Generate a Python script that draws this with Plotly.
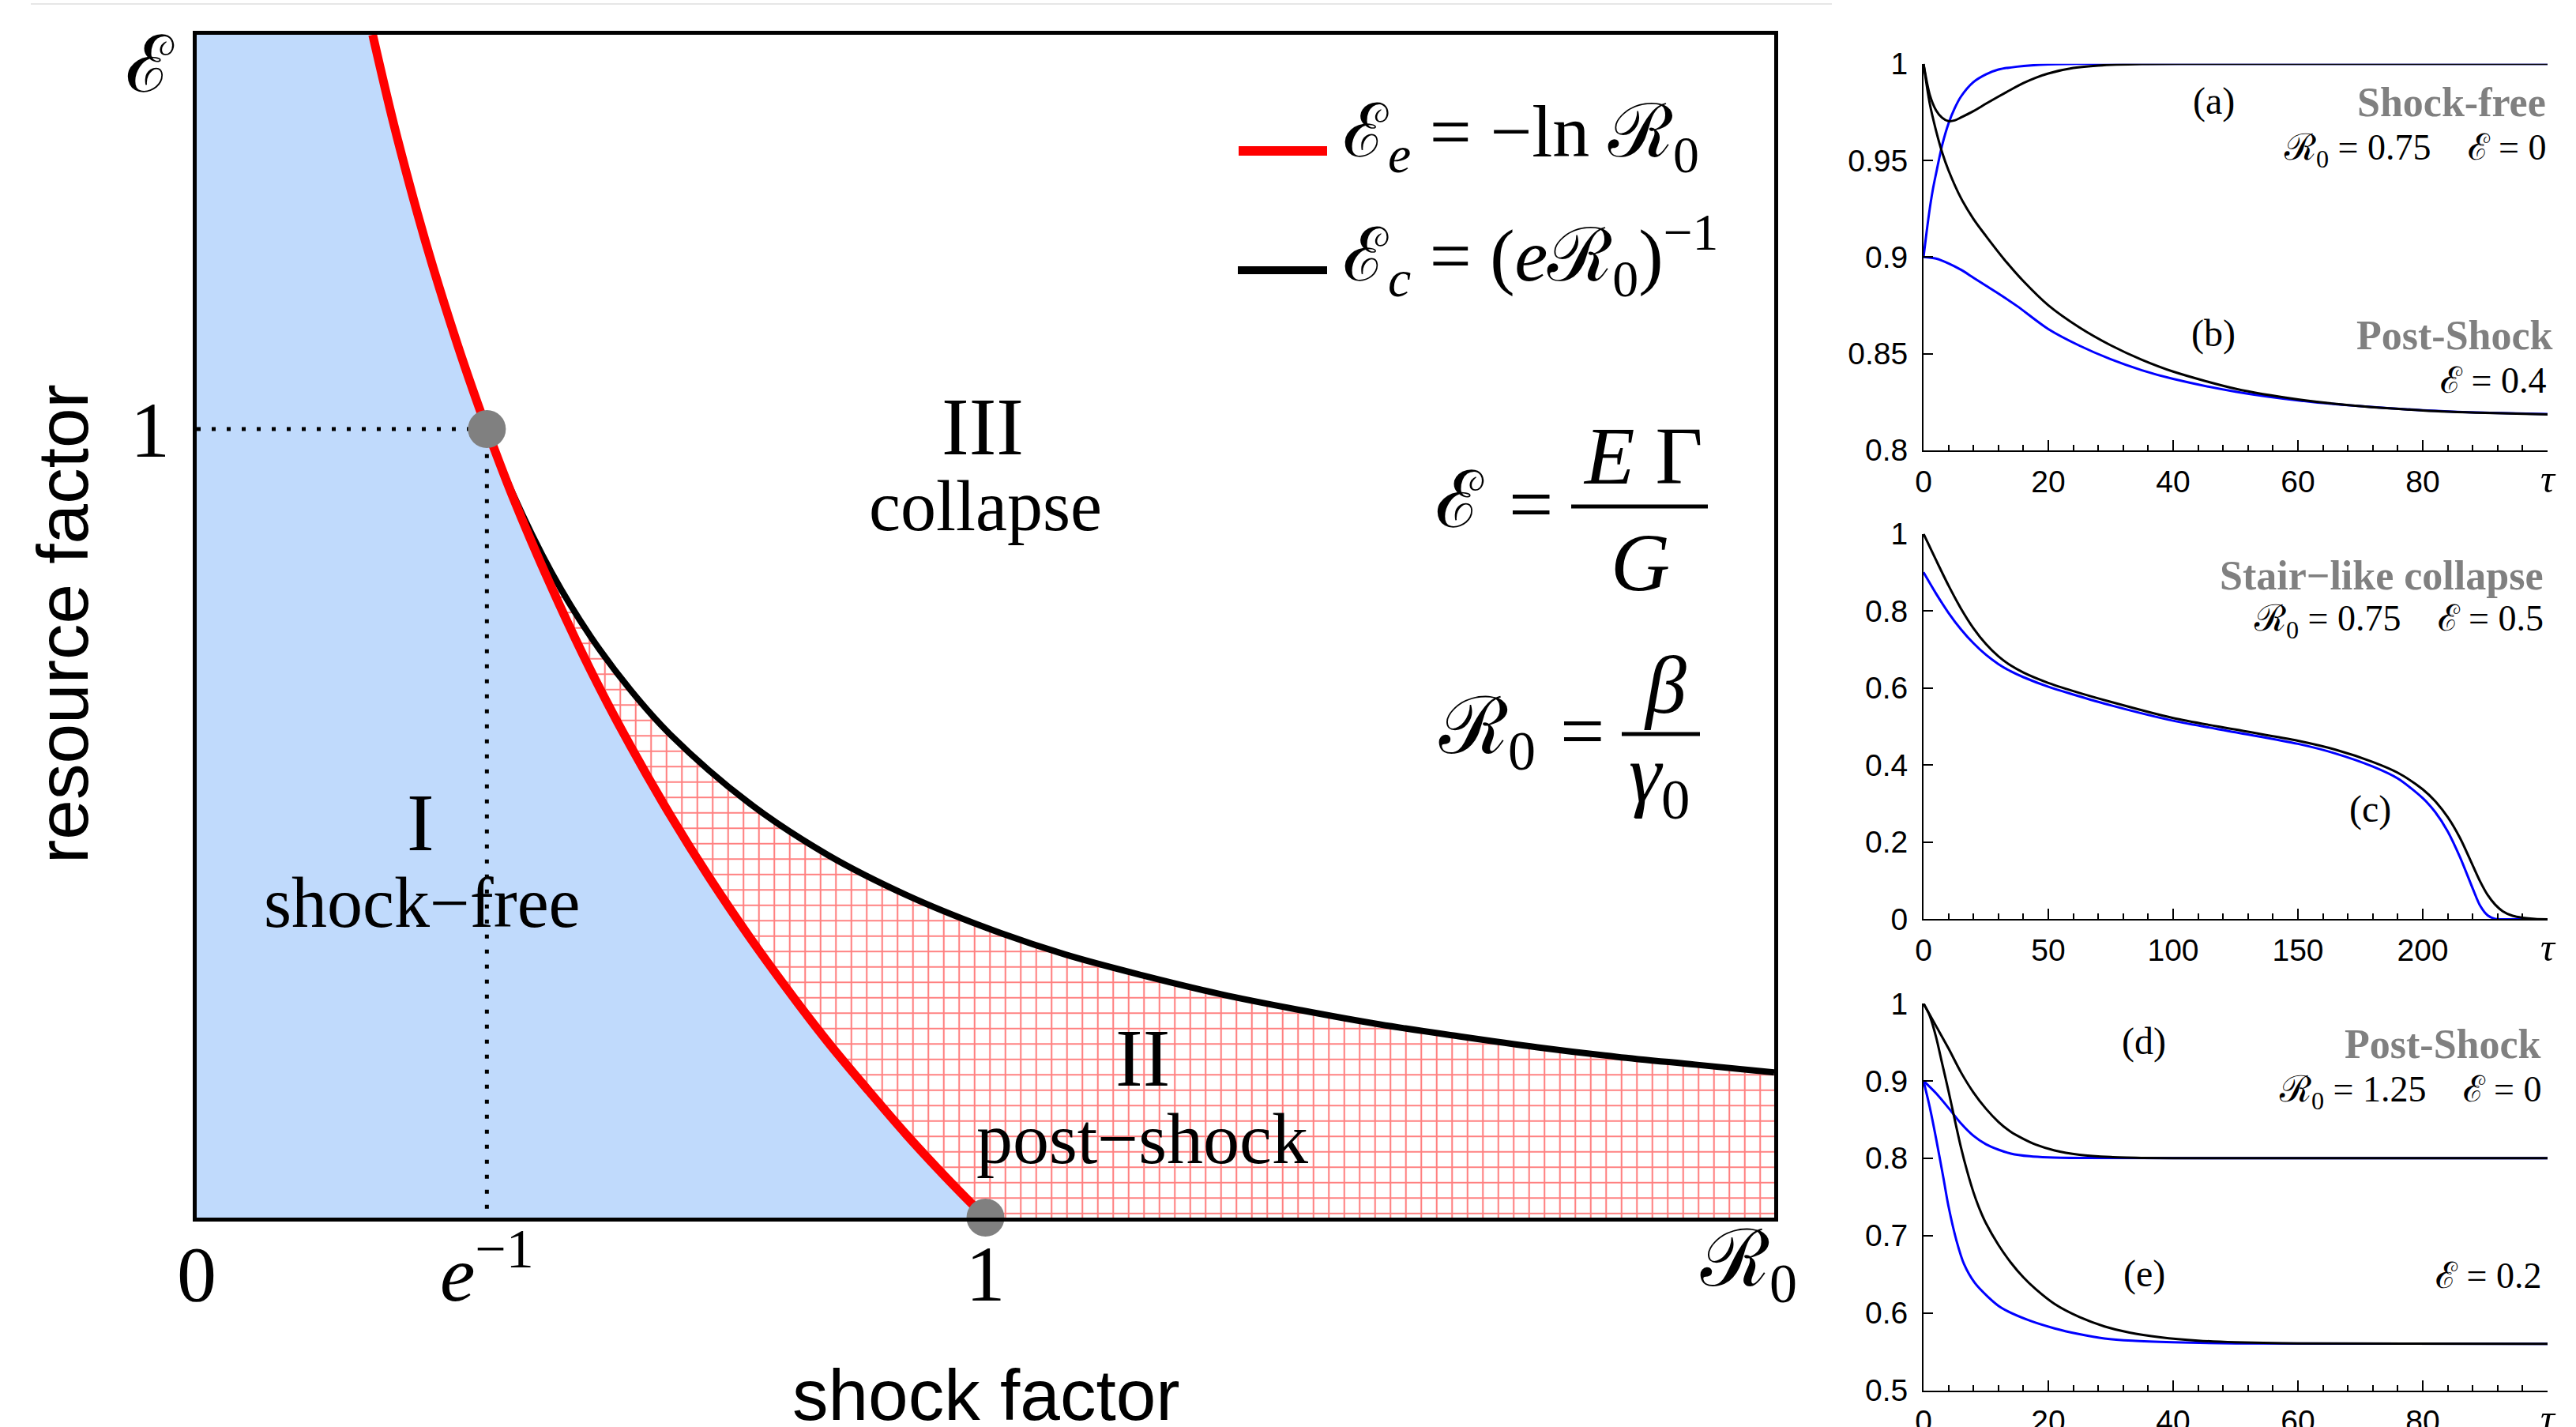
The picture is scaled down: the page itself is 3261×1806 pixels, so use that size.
import plotly.graph_objects as go

W, H = 3261, 1806
SERIF = "Liberation Serif, DejaVu Serif, serif"
SANS = "Liberation Sans, Arial, sans-serif"

# ---------------- main phase diagram data ----------------
x_range = [0, 2.0]
y_range = [0, 1.5]
# E_e = -ln R0 (red boundary)
r0_red = [0.2231, 0.25, 0.28, 0.30, 0.33, 0.35, 0.3679, 0.40, 0.45, 0.50, 0.55,
          0.60, 0.65, 0.70, 0.75, 0.80, 0.85, 0.90, 0.95, 1.00]
e_red = [1.500, 1.386, 1.273, 1.204, 1.109, 1.050, 1.000, 0.916, 0.799, 0.693, 0.598,
         0.511, 0.431, 0.357, 0.288, 0.223, 0.163, 0.105, 0.051, 0.000]
# E_c = (e R0)^-1 (black boundary)
r0_black = [0.3679, 0.40, 0.45, 0.50, 0.55, 0.60, 0.70, 0.80, 0.90, 1.00, 1.10,
            1.20, 1.30, 1.40, 1.50, 1.60, 1.70, 1.80, 1.90, 2.00]
e_black = [1.000, 0.920, 0.818, 0.736, 0.669, 0.613, 0.526, 0.460, 0.409, 0.368, 0.334,
           0.307, 0.283, 0.263, 0.245, 0.230, 0.216, 0.204, 0.194, 0.184]
# special points
crit_x = [0.3679, 1.0]
crit_y = [1.0, 0.0]
x_tickvals = [0, 0.3679, 1]
x_ticktext = ["0", "<i>e</i><sup>−1</sup>", "1"]

# ---------------- right panels data ----------------
# top panel (a) shock-free and (b) post-shock
tau_a = [0, 1, 2, 3, 4, 5, 6, 8, 10, 12, 14, 16, 18, 20, 24, 28, 35, 45, 100]
a_black = [1.0, 0.984, 0.976, 0.972, 0.9703, 0.9707, 0.9722, 0.9755, 0.9793, 0.983,
           0.9866, 0.990, 0.9928, 0.995, 0.9978, 0.9991, 0.9999, 1.0, 1.0]
tau_a2 = [0, 0.5, 1, 1.5, 2, 3, 4, 5, 6, 8, 10, 12, 15, 20, 25, 30, 100]
a_blue = [0.9, 0.913, 0.925, 0.935, 0.943, 0.958, 0.969, 0.977, 0.983, 0.9905, 0.9945,
          0.997, 0.9985, 0.9997, 1.0, 1.0, 1.0]
tau_b = [0, 1, 2, 3, 4, 6, 8, 10, 13, 16, 20, 25, 30, 35, 40, 50, 60, 70, 80, 90, 100]
b_black = [1.0, 0.9794, 0.9655, 0.954, 0.9449, 0.9305, 0.9197, 0.9109, 0.8985, 0.8875,
           0.8750, 0.8635, 0.8543, 0.8468, 0.8407, 0.8318, 0.8263, 0.8228, 0.8206, 0.8193,
           0.8185]
tau_b2 = [0, 2, 4, 6, 8, 10, 12, 15, 20, 25, 30, 35, 40, 50, 60, 70, 80, 90, 100]
b_blue = [0.9, 0.8992, 0.8967, 0.8934, 0.8893, 0.8852, 0.8811, 0.8746, 0.8627, 0.8541,
          0.8471, 0.8414, 0.8369, 0.8303, 0.8258, 0.8228, 0.8207, 0.8194, 0.8187]

# middle panel (c) stair-like collapse
tau_c = [0, 5, 10, 15, 20, 25, 30, 35, 40, 50, 60, 75, 100, 125, 150, 165, 180, 190,
         200, 205, 210, 215, 220, 223, 226, 229, 232, 236, 240, 245, 250]
c_black = [1.0, 0.932, 0.866, 0.806, 0.755, 0.714, 0.682, 0.658, 0.640, 0.613, 0.592,
           0.564, 0.522, 0.492, 0.463, 0.440, 0.408, 0.380, 0.337, 0.306, 0.265, 0.210,
           0.140, 0.098, 0.063, 0.038, 0.021, 0.009, 0.004, 0.001, 0.0]
c_blue = [0.9, 0.845, 0.795, 0.752, 0.716, 0.686, 0.662, 0.643, 0.628, 0.603, 0.583,
          0.555, 0.515, 0.485, 0.455, 0.430, 0.396, 0.365, 0.314, 0.278, 0.228, 0.160,
          0.080, 0.035, 0.010, 0.001, 0.0, 0.0, 0.0, 0.0, 0.0]

# bottom panel (d) and (e) post-shock
tau_d = [0, 2, 4, 6, 8, 10, 12, 14, 16, 18, 21, 25, 30, 35, 40, 100]
d_black = [1.0, 0.971, 0.942, 0.911, 0.885, 0.864, 0.847, 0.834, 0.825, 0.8175, 0.810,
           0.8045, 0.8015, 0.8004, 0.8, 0.8]
tau_d2 = [0, 2, 4, 6, 8, 10, 12, 14, 17, 20, 25, 100]
d_blue = [0.9, 0.884, 0.865, 0.845, 0.829, 0.818, 0.811, 0.806, 0.8025, 0.801, 0.8002, 0.8]
tau_e = [0, 1, 2, 3, 4, 5, 6, 7, 8, 9, 10, 12, 14, 16, 18, 21, 25, 29, 33, 38, 44, 50,
         60, 100]
e_blk = [1.0, 0.984, 0.957, 0.922, 0.887, 0.850, 0.814, 0.783, 0.756, 0.734, 0.716,
         0.688, 0.665, 0.646, 0.6305, 0.6115, 0.5945, 0.5825, 0.5745, 0.5685, 0.5642,
         0.562, 0.5605, 0.56]
tau_e2 = [0, 1, 2, 3.2, 4, 5.3, 6.5, 8.2, 10.3, 12.4, 16.7, 21, 25, 29, 33.5, 40, 50, 100]
e_blu = [0.9, 0.866, 0.826, 0.774, 0.738, 0.693, 0.663, 0.639, 0.621, 0.607, 0.591, 0.580,
         0.5725, 0.567, 0.564, 0.562, 0.5605, 0.56]


def px(x):
    return x / W


def py(y):
    return 1 - y / H


fig = go.Figure()

# region I (shock-free) fill
fig.add_trace(go.Scatter(x=[0, 0] + r0_red, y=[0, y_range[1]] + e_red, mode="lines",
                         fill="toself", fillcolor="#c0dafc", line=dict(width=0),
                         hoverinfo="skip", showlegend=False))
# region II (post-shock) hatched fill
i0 = r0_red.index(crit_x[0])
fig.add_trace(go.Scatter(x=r0_black + [x_range[1], crit_x[1]] + r0_red[i0:][::-1],
                         y=e_black + [0, 0] + e_red[i0:][::-1], mode="lines",
                         fill="toself", fillcolor="white", line=dict(width=0),
                         fillpattern=dict(shape="+", size=19.5, solidity=0.2,
                                          fgcolor="#ff8080", bgcolor="white",
                                          fillmode="replace"),
                         hoverinfo="skip", showlegend=False))
# boundaries
fig.add_trace(go.Scatter(x=r0_black, y=e_black, mode="lines",
                         line=dict(color="black", width=8, shape="spline"), showlegend=False))
fig.add_trace(go.Scatter(x=r0_red, y=e_red, mode="lines",
                         line=dict(color="#ff0000", width=11, shape="spline"), showlegend=False))
# dotted guides
fig.add_trace(go.Scatter(x=[0, crit_x[0], crit_x[0]], y=[crit_y[0], crit_y[0], 0], mode="lines",
                         line=dict(color="black", width=5, dash="5px,14px"), showlegend=False))
# critical points
fig.add_trace(go.Scatter(x=crit_x, y=crit_y, mode="markers", cliponaxis=False,
                         marker=dict(color="#808080", size=48), showlegend=False))


# right panels
def add_curve(x, y, color, xa, ya):
    fig.add_trace(go.Scatter(x=x, y=y, mode="lines", xaxis=xa, yaxis=ya, showlegend=False,
                             line=dict(color=color, width=3, shape="spline", smoothing=0.8)))


add_curve(tau_a2, a_blue, "#0000ff", "x2", "y2")
add_curve(tau_b2, b_blue, "#0000ff", "x2", "y2")
add_curve(tau_a, a_black, "black", "x2", "y2")
add_curve(tau_b, b_black, "black", "x2", "y2")
add_curve(tau_c, c_blue, "#0000ff", "x3", "y3")
add_curve(tau_c, c_black, "black", "x3", "y3")
add_curve(tau_d2, d_blue, "#0000ff", "x4", "y4")
add_curve(tau_e2, e_blu, "#0000ff", "x4", "y4")
add_curve(tau_d, d_black, "black", "x4", "y4")
add_curve(tau_e, e_blk, "black", "x4", "y4")

TAU = "<span style='font-family:Liberation Serif;font-size:50px'><i>τ</i></span>"


def small_x(anchor, rng, vals, text, minor_dt):
    return dict(domain=[px(2435), px(3225)], anchor=anchor, range=rng, showline=True,
                linecolor="black", linewidth=2, ticks="inside", ticklen=13, tickwidth=2,
                tickcolor="black", tickvals=vals, ticktext=text, showgrid=False, zeroline=False,
                automargin=False,
                tickfont=dict(family=SANS, size=39, color="black"), ticklabelstandoff=4,
                minor=dict(ticks="inside", ticklen=7, tickwidth=2, tickcolor="black",
                           tickmode="linear", tick0=0, dtick=minor_dt, showgrid=False))


def small_y(domain, anchor, rng, vals, text):
    return dict(domain=domain, anchor=anchor, range=rng, showline=True, linecolor="black",
                linewidth=2, ticks="inside", ticklen=12, tickwidth=2, tickcolor="black",
                tickvals=vals, ticktext=text, showgrid=False, zeroline=False,
                automargin=False,
                tickfont=dict(family=SANS, size=39, color="black"), ticklabelstandoff=10)


fig.update_layout(
    width=W, height=H, margin=dict(l=0, r=0, t=0, b=0, autoexpand=False),
    paper_bgcolor="white", plot_bgcolor="white", showlegend=False,
    xaxis=dict(domain=[px(249), px(2246)], anchor="y", range=x_range, showline=True,
               mirror=True, linecolor="black", linewidth=5, showgrid=False, zeroline=False,
               tickvals=x_tickvals, ticktext=x_ticktext, ticks="", automargin=False,
               tickfont=dict(family=SERIF, size=100, color="black"), ticklabelstandoff=-20),
    yaxis=dict(domain=[py(1541), py(44)], anchor="x", range=y_range, showline=True,
               mirror=True, linecolor="black", linewidth=5, showgrid=False, zeroline=False,
               tickvals=[1], ticktext=["1"], ticks="", automargin=False,
               tickfont=dict(family=SERIF, size=100, color="black"), ticklabelstandoff=9),
    xaxis2=small_x("y2", [0, 100], [0, 20, 40, 60, 80, 100],
                   ["0", "20", "40", "60", "80", TAU], 4),
    yaxis2=small_y([py(569.8), py(80.7)], "x2", [0.8, 1.0], [0.8, 0.85, 0.9, 0.95, 1.0],
                   ["0.8", "0.85", "0.9", "0.95", "1"]),
    xaxis3=small_x("y3", [0, 250], [0, 50, 100, 150, 200, 250],
                   ["0", "50", "100", "150", "200", TAU], 10),
    yaxis3=small_y([py(1163.4), py(675.5)], "x3", [0, 1.0], [0, 0.2, 0.4, 0.6, 0.8, 1.0],
                   ["0", "0.2", "0.4", "0.6", "0.8", "1"]),
    xaxis4=small_x("y4", [0, 100], [0, 20, 40, 60, 80, 100],
                   ["0", "20", "40", "60", "80", TAU], 4),
    yaxis4=small_y([py(1759.5), py(1270)], "x4", [0.5, 1.0], [0.5, 0.6, 0.7, 0.8, 0.9, 1.0],
                   ["0.5", "0.6", "0.7", "0.8", "0.9", "1"]),
)

anns = []


def ann(text, x, y, size, xanchor="center", family=SERIF, color="black", angle=0):
    anns.append(dict(text=text, x=px(x), y=py(y), xref="paper", yref="paper",
                     xanchor=xanchor, yanchor="middle", showarrow=False, textangle=angle,
                     font=dict(family=family, size=size, color=color)))


# main panel texts
ann("III", 1244, 540, 104)
ann("collapse", 1247, 640, 90)
ann("I", 532, 1040, 104)
ann("shock−free", 534, 1142, 90)
ann("II", 1446, 1338, 104)
ann("post−shock", 1446, 1441, 92)
# formulas
ann("ℰ", 1848, 633, 100)
ann("=", 1938, 638, 100)
ann("<i>E</i> Γ", 2080, 577, 104)
ann("<i>G</i>", 2076, 711, 104)
ann("ℛ<sub>0</sub>", 1883, 926, 100)
ann("=", 2003, 925, 100)
ann("<i>β</i>", 2108, 866, 104)
ann("<i>γ</i><sub>0</sub>", 2100, 986, 104)
# legend
ann("ℰ<sub><i>e</i></sub> = −ln ℛ<sub>0</sub>", 1698, 173, 94, xanchor="left")
ann("ℰ<sub><i>c</i></sub> = (<i>e</i>ℛ<sub>0</sub>)<sup>−1</sup>", 1698, 323, 94, xanchor="left")
# axis symbols and titles
ann("ℛ<sub>0</sub>", 2213, 1600, 100)
ann("ℰ", 190, 83, 100)
ann("shock factor", 1248, 1765, 91, family=SANS)
ann("resource factor", 79, 790, 91, family=SANS, angle=-90)

# right panel texts
GREY = "#808080"
ann("(a)", 2802, 128, 48)
ann("<b>Shock-free</b>", 3225, 130, 52, xanchor="right", color=GREY)
ann("ℛ<sub>0</sub> = 0.75\u00a0\u00a0\u00a0\u00a0ℰ = 0", 3225, 190, 46, xanchor="right")
ann("(b)", 2802, 422, 48)
ann("<b>Post-Shock</b>", 3234, 424, 52, xanchor="right", color=GREY)
ann("ℰ = 0.4", 3225, 482, 46, xanchor="right")
ann("<b>Stair−like collapse</b>", 3222, 729, 52, xanchor="right", color=GREY)
ann("ℛ<sub>0</sub> = 0.75\u00a0\u00a0\u00a0\u00a0ℰ = 0.5", 3222, 786, 46, xanchor="right")
ann("(c)", 3000, 1024, 48)
ann("(d)", 2714, 1318, 48)
ann("<b>Post-Shock</b>", 3219, 1321, 52, xanchor="right", color=GREY)
ann("ℛ<sub>0</sub> = 1.25\u00a0\u00a0\u00a0\u00a0ℰ = 0", 3219, 1382, 46, xanchor="right")
ann("(e)", 2714, 1612, 48)
ann("ℰ = 0.2", 3219, 1614, 46, xanchor="right")

shapes = [
    dict(type="line", xref="paper", yref="paper", x0=px(1568), x1=px(1680), y0=py(191),
         y1=py(191), line=dict(color="#ff0000", width=12)),
    dict(type="line", xref="paper", yref="paper", x0=px(1567), x1=px(1680), y0=py(342),
         y1=py(342), line=dict(color="black", width=10)),
    dict(type="line", xref="paper", yref="paper", x0=px(1989), x1=px(2162), y0=py(641),
         y1=py(641), line=dict(color="black", width=5)),
    dict(type="line", xref="paper", yref="paper", x0=px(2053), x1=px(2152), y0=py(929),
         y1=py(929), line=dict(color="black", width=5)),
    dict(type="line", xref="paper", yref="paper", x0=px(39), x1=px(2319), y0=py(5),
         y1=py(5), line=dict(color="#e6e6e6", width=2)),
]
fig.update_layout(annotations=anns, shapes=shapes)

fig.write_html("out.html", config={"displayModeBar": False},
               post_script="document.body.style.margin='0';document.body.style.overflow='hidden';")
